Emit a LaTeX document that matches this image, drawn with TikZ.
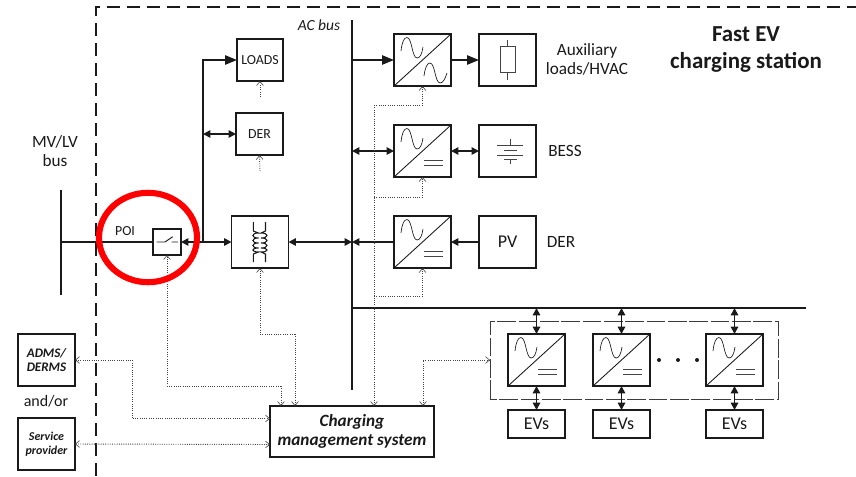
\documentclass[tikz,border=0pt]{standalone}
\usepackage{fontspec}
\setmainfont{Carlito}
\usetikzlibrary{arrows.meta,calc}
\definecolor{ink}{HTML}{1A1A1A}
\definecolor{soft}{HTML}{444444}
\tikzset{
  x=0.75pt,y=-0.75pt,
  bx/.style 2 args={draw=ink,line width=1.1pt,minimum width=#1*0.75pt,minimum height=#2*0.75pt,inner sep=0pt,outer sep=0pt,align=center,text=ink,font=\fontsize{10.4}{12}\selectfont},
  conv/.style={bx={57}{52}},
  lbl/.style={inner sep=0pt,align=center,text=ink,font=\fontsize{12.9}{14.3}\selectfont},
  bus/.style={draw=ink,line width=1.35pt},
  power/.style={draw=ink,line width=1.2pt},
  bigarrow/.style={power,-{Triangle[length=9pt,width=7pt]}},
  smallarrow/.style={power,-{Triangle[length=5.5pt,width=5.5pt]}},
  botharrow/.style={power,{Triangle[length=5.5pt,width=5.5pt]}-{Triangle[length=5.5pt,width=5.5pt]}},
  eventhick/.style={botharrow,line width=1.45pt},
  ctrl/.style={draw=soft,line width=0.7pt,densely dotted,-{Straight Barb[length=3pt,width=5pt,line width=0.45pt]}},
  ctrlboth/.style={draw=soft,line width=0.7pt,densely dotted,{Straight Barb[length=3pt,width=5pt,line width=0.45pt]}-{Straight Barb[length=3pt,width=5pt,line width=0.45pt]}},
  frame/.style={draw=ink,line width=0.9pt,dash pattern=on 10pt off 5pt},
  inner frame/.style={draw=ink!85,line width=0.7pt,dash pattern=on 14pt off 2pt},
  icon/.style={draw=ink,line width=0.5pt},
  grayicon/.style={draw=soft,line width=0.6pt}
}
\newcommand{\acwave}[1]{%
  \begin{scope}[shift={(#1.north west)}]
  \draw[icon] (7,17) .. controls (8,8) and (10,3.5) .. (13,3.5) .. controls (18,3.5) and (18,24) .. (23,24) .. controls (26,24) and (28,20) .. (29,13);
  \end{scope}}
\newcommand{\acwaveb}[1]{%
  \begin{scope}[shift={(#1.north west)}]
  \draw[icon] (30,42) .. controls (31,34) and (33,29) .. (36,29) .. controls (41,29) and (41,49) .. (46,49) .. controls (49,49) and (51,45) .. (53,39);
  \end{scope}}
\newcommand{\diag}[1]{\draw[icon,line width=0.65pt] (#1.south west) -- (#1.north east);}
\newcommand{\dcmark}[1]{%
  \begin{scope}[shift={(#1.north west)}]
  \draw[grayicon] (30,35.5) -- (49,35.5) (30,40.5) -- (49,40.5);
  \end{scope}}
\newcommand{\dcconv}[1]{\diag{#1}\acwave{#1}\dcmark{#1}}
\begin{document}
\begin{tikzpicture}
\useasboundingbox (0,0) rectangle (856,476);
\fill[white] (0,0) rectangle (856,476);

% station frame
\coordinate (frameTL) at (96,7);
\coordinate (frameTR) at (856,7);
\coordinate (frameBL) at (96,476);
\draw[frame] (frameBL) -- (frameTL) -- (frameTR);

% bus bars
\coordinate (acTop) at (352,20);
\coordinate (acBot) at (352,390);
\coordinate (dcEnd) at (806,308);
\coordinate (acTee) at (352,308);
\coordinate (mvTop) at (61,190);
\coordinate (mvBot) at (61,295);
\coordinate (tap) at (203,242);
\coordinate (mvTap) at (61,242);
\draw[bus] (acTop) -- (acBot);
\draw[bus] (acTee) -- (dcEnd);
\draw[bus] (mvTop) -- (mvBot);

% nodes
\node[bx={46}{42}] (loads) at (260,60) {LOADS};
\node[bx={47}{42}] (der) at (259.5,134) {DER};
\node[bx={57}{52}] (xfmr) at (260,242) {};
\node[bx={28}{26},line width=0.8pt] (sw) at (167,242) {};
\node[conv] (c1) at (422.5,60) {};
\node[conv] (c2) at (422.5,151) {};
\node[conv] (c3) at (422.5,242) {};
\node[conv] (aux) at (507.5,60) {};
\node[conv] (bess) at (507.5,151) {};
\node[conv,font=\fontsize{13.5}{15}\selectfont] (pv) at (507.5,242) {PV};
\node[conv] (e1) at (536.5,360) {};
\node[conv] (e2) at (621.5,360) {};
\node[conv] (e3) at (734.5,360) {};
\node[bx={57}{28},font=\fontsize{13.5}{15}\selectfont] (v1) at (536.5,424) {EVs};
\node[bx={57}{28},font=\fontsize{13.5}{15}\selectfont] (v2) at (621.5,424) {EVs};
\node[bx={57}{28},font=\fontsize{13.5}{15}\selectfont] (v3) at (734.5,424) {EVs};
\node[bx={57}{52},font=\fontsize{9.8}{10.4}\selectfont\bfseries\itshape] (adms) at (46.5,360) {ADMS/\\DERMS};
\node[bx={57}{52},font=\fontsize{9}{10.5}\selectfont\bfseries\itshape] (sp) at (46.5,444) {Service\\provider};
\node[bx={164}{51},font=\fontsize{12.9}{14.3}\selectfont\bfseries\itshape] (cms) at (352,431.5) {Charging\\management system};
\node[draw=none,minimum width=288*0.75pt,minimum height=78*0.75pt,inner sep=0pt,outer sep=0pt] (group) at (634,360) {};
\draw[inner frame] (group.south west) rectangle (group.north east);

% labels
\node[lbl] (tMV) at (55,151) {MV/LV\\bus};
\node[lbl,font=\fontsize{10.4}{12}\selectfont] (tPOI) at (125,231) {POI};
\node[lbl,font=\fontsize{11.6}{13}\selectfont\itshape] (tAC) at (319,25) {AC bus};
\node[lbl] (tAux) at (587,59.5) {Auxiliary\\loads/HVAC};
\node[lbl] (tBess) at (565,151) {BESS};
\node[lbl] (tDer) at (561,242) {DER};
\node[lbl,font=\fontsize{17.2}{20.3}\selectfont\bfseries] (tFast) at (746,49.5) {Fast EV\\charging station};
\node[lbl,font=\fontsize{12}{14}\selectfont] (tOr) at (46,401) {and/or};

% converter drawings
\diag{c1}\acwave{c1}\acwaveb{c1}
\dcconv{c2}\dcconv{c3}\dcconv{e1}\dcconv{e2}\dcconv{e3}

% resistor
\draw[grayicon] (500.5,46.7) rectangle (515,72.5);
\draw[grayicon] (507.7,40) -- (507.7,46.7) (507.7,72.5) -- (507.7,80);
% battery
\draw[grayicon] (497,145) -- (523,145) (504,150) -- (517,150) (497,155) -- (523,155) (504,159.5) -- (517,159.5);
\draw[grayicon] (510,139) -- (510,145) (510,159.5) -- (510,164);
% switch blade
\draw[icon,line width=0.7pt] (156.7,242) -- (165,242) -- (172.7,236.7) (171.7,242) -- (178,242);
% transformer
\draw[icon,line width=0.8pt] (253.3,222) -- (253.3,231) -- (258.5,233)
  .. controls (251,233) and (251,238) .. (258.5,238)
  .. controls (251,238) and (251,243) .. (258.5,243)
  .. controls (251,243) and (251,248) .. (258.5,248)
  .. controls (251,248) and (251,252) .. (258.5,252) -- (253.3,254) -- (253.3,262);
\draw[icon,line width=0.8pt] (265.5,222) -- (265.5,231) -- (261,233)
  .. controls (269,233) and (269,238) .. (261,238)
  .. controls (269,238) and (269,243) .. (261,243)
  .. controls (269,243) and (269,248) .. (261,248)
  .. controls (269,248) and (269,252) .. (261,252) -- (265.5,254) -- (265.5,262);

% power connectors
\draw[power] (mvTap) -- (sw.west);
\draw[smallarrow] (tap) -- (sw.east);
\draw[bigarrow] (tap) |- (loads.west);
\draw[botharrow] (der.west -| tap) -- (der.west);
\draw[smallarrow] (tap) -- (xfmr.west);
\draw[botharrow] (xfmr.east) -- (xfmr.east -| acTop);
\draw[bigarrow] (c1.west -| acTop) -- (c1.west);
\draw[bigarrow] (c1.east) -- (aux.west);
\draw[botharrow] (c2.west -| acTop) -- (c2.west);
\draw[botharrow] (c2.east) -- (bess.west);
\draw[smallarrow] (c3.west) -- (c3.west -| acTop);
\draw[smallarrow] (pv.west) -- (c3.east);
\foreach \n/\v in {e1/v1,e2/v2,e3/v3}{
  \draw[eventhick] (\n.north |- dcEnd) -- (\n.north);
  \draw[eventhick] (\n.south) -- (\v.north);
}

% dots
\node[circle,fill=ink,inner sep=0pt,minimum size=3pt] (p1) at (659,360) {};
\node[circle,fill=ink,inner sep=0pt,minimum size=3pt] (p2) at (678,360) {};
\node[circle,fill=ink,inner sep=0pt,minimum size=3pt] (p3) at (697,360) {};

% control connectors
\coordinate (trunk) at (374,105);
\coordinate (trunkB) at (374,197);
\coordinate (trunkC) at (374,296);
\coordinate (swBend) at (167,386);
\coordinate (swIn) at (281,386);
\coordinate (xfBend) at (260,334);
\coordinate (xfIn) at (295,334);
\coordinate (admsOut) at (132,360);
\coordinate (admsIn) at (132,418.5);
\coordinate (groupOut) at (423,360);
\coordinate (spIn) at (270,444.5);
\coordinate (ld) at (260,97);
\coordinate (dr) at (260,171);
\draw[ctrl] (trunk) -- (cms.north -| trunk);
\draw[ctrl] (trunk) -| (c1.south);
\draw[ctrl] (trunkB) -| (c2.south);
\draw[ctrl] (trunkC) -| (c3.south);
\draw[ctrl] (ld) -- (loads.south);
\draw[ctrl] (dr) -- (der.south);
\draw[ctrl] (swIn) -- (swBend) -- (sw.south);
\draw[ctrl] (swIn) -- (cms.north -| swIn);
\draw[ctrl] (xfIn) -- (xfBend) -- (xfmr.south);
\draw[ctrl] (xfIn) -- (cms.north -| xfIn);
\draw[ctrlboth] (adms.east) -- (admsOut) -- (admsIn) -- (cms.west |- admsIn);
\draw[ctrlboth] (sp.east) -- (spIn);
\draw[ctrlboth] (cms.north -| groupOut) -- (groupOut) -- (group.west);

% POI highlight
\draw[red,line width=4.6pt] (148,237.5) ellipse [x radius=49, y radius=44.7];
\end{tikzpicture}
\end{document}
